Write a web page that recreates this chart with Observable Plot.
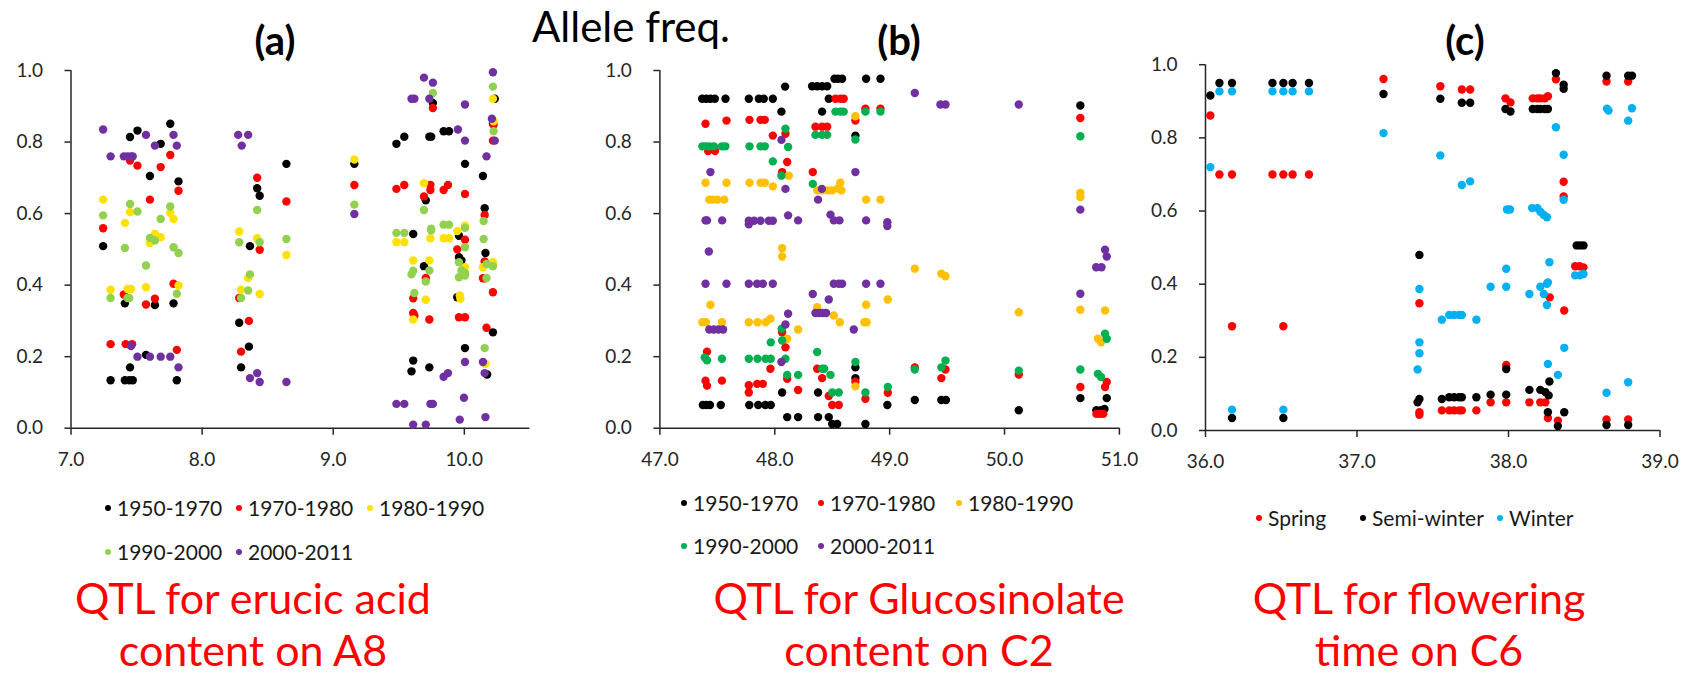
<!DOCTYPE html>
<html><head><meta charset="utf-8">
<script src="https://cdn.jsdelivr.net/npm/d3@7"></script>
<script src="https://cdn.jsdelivr.net/npm/@observablehq/plot@0.6"></script>
<style>
body{margin:0;background:#fff;}
#root{position:relative;width:1689px;height:676px;overflow:hidden;font-family:Lato,sans-serif;background:#fff;}
.abs{position:absolute;white-space:nowrap;line-height:1;}
.panel{position:absolute;top:0;}
</style></head><body><div id="root"></div><script>
// ---------- Panel (a): QTL for erucic acid content on A8 ----------
const aNames = ["1950-1970","1970-1980","1980-1990","1990-2000","2000-2011"];
const aColors = ["#000000","#FF0000","#FFE100","#92D050","#7030A0"];
const aXTicks = [7,8,9,10];
const a1950 = [[7.245,0.509],[7.302,0.134],[7.411,0.349],[7.411,0.134],[7.444,0.134],[7.471,0.134],[7.450,0.17],[7.450,0.814],[7.507,0.832],[7.602,0.705],[7.640,0.344],[7.572,0.205],[7.684,0.795],[7.757,0.851],[7.820,0.69],[7.782,0.349],[7.807,0.134],
[8.365,0.509],[8.420,0.671],[8.439,0.65],[8.283,0.295],[8.357,0.228],[8.297,0.17],[8.643,0.739],[9.161,0.739],
[9.482,0.795],[9.542,0.815],[9.610,0.543],[9.597,0.159],[9.610,0.189],[9.760,0.909],[9.733,0.815],[9.747,0.815],[9.706,0.637],[9.692,0.453],[9.733,0.17],[9.842,0.83],[9.883,0.83],[10.005,0.739],[9.959,0.538],[9.959,0.478],[9.978,0.469],[9.946,0.366],[10.005,0.224],[10.142,0.705],[10.155,0.615],[10.161,0.49],[10.218,0.268],[10.174,0.15],[10.232,0.921],[10.218,0.851]];
const a1970 = [[7.245,0.559],[7.302,0.235],[7.403,0.374],[7.417,0.235],[7.466,0.235],[7.450,0.748],[7.507,0.734],[7.602,0.639],[7.640,0.362],[7.572,0.346],[7.684,0.73],[7.757,0.764],[7.820,0.664],[7.782,0.404],[7.807,0.219],
[8.420,0.70],[8.439,0.499],[8.283,0.364],[8.357,0.30],[8.297,0.214],[8.643,0.634],[9.161,0.68],
[9.482,0.669],[9.542,0.68],[9.610,0.363],[9.610,0.322],[9.619,0.315],[9.760,0.895],[9.741,0.68],[9.741,0.666],[9.692,0.648],[9.706,0.42],[9.733,0.304],[9.842,0.666],[9.875,0.68],[10.005,0.655],[10.005,0.527],[9.946,0.50],[9.959,0.31],[10.005,0.31],[10.155,0.596],[10.155,0.466],[10.142,0.419],[10.161,0.419],[10.218,0.38],[10.169,0.281],[10.223,0.848],[10.218,0.804]];
const a1980 = [[7.245,0.639],[7.302,0.387],[7.411,0.574],[7.431,0.389],[7.458,0.389],[7.450,0.604],[7.572,0.394],[7.602,0.518],[7.640,0.543],[7.684,0.534],[7.757,0.602],[7.782,0.585],[7.820,0.399],
[8.283,0.55],[8.420,0.531],[8.351,0.42],[8.297,0.387],[8.439,0.375],[8.643,0.484],[9.161,0.751],
[9.482,0.52],[9.542,0.52],[9.610,0.469],[9.610,0.304],[9.692,0.685],[9.741,0.531],[9.733,0.469],[9.706,0.359],[9.842,0.531],[9.883,0.531],[9.946,0.551],[10.005,0.566],[10.005,0.45],[9.965,0.371],[9.970,0.362],[10.142,0.45],[10.218,0.464],[10.161,0.18],[10.218,0.921],[10.223,0.858]];
const a1990 = [[7.245,0.595],[7.302,0.364],[7.411,0.504],[7.431,0.364],[7.444,0.364],[7.450,0.627],[7.507,0.606],[7.572,0.455],[7.602,0.532],[7.640,0.525],[7.684,0.585],[7.757,0.62],[7.782,0.506],[7.820,0.49],[7.807,0.376],
[8.283,0.52],[8.439,0.52],[8.420,0.61],[8.365,0.43],[8.297,0.364],[8.351,0.385],[8.643,0.529],[9.161,0.625],
[9.482,0.546],[9.542,0.546],[9.597,0.43],[9.610,0.44],[9.619,0.378],[9.760,0.937],[9.692,0.61],[9.747,0.558],[9.747,0.553],[9.733,0.441],[9.706,0.41],[9.842,0.569],[9.883,0.569],[10.005,0.56],[10.005,0.506],[9.959,0.464],[9.978,0.441],[10.005,0.434],[9.959,0.422],[10.005,0.427],[10.147,0.579],[10.147,0.529],[10.169,0.459],[10.218,0.453],[10.169,0.42],[10.155,0.224],[10.218,0.955],[10.223,0.83]];
const a2000 = [[7.245,0.835],[7.302,0.76],[7.403,0.76],[7.431,0.76],[7.458,0.76],[7.471,0.76],[7.572,0.82],[7.458,0.23],[7.507,0.2],[7.602,0.2],[7.640,0.79],[7.684,0.2],[7.757,0.2],[7.782,0.82],[7.807,0.79],[7.820,0.17],
[8.275,0.82],[8.351,0.82],[8.302,0.79],[8.365,0.14],[8.420,0.154],[8.439,0.129],[8.643,0.129],[9.161,0.599],
[9.482,0.068],[9.542,0.068],[9.597,0.921],[9.619,0.921],[9.610,0.01],[9.692,0.98],[9.760,0.966],[9.733,0.921],[9.706,0.01],[9.741,0.068],[9.760,0.068],[9.842,0.144],[9.875,0.154],[9.951,0.835],[10.005,0.804],[10.005,0.905],[10.005,0.185],[9.997,0.085],[9.965,0.024],[10.169,0.76],[10.142,0.185],[10.155,0.154],[10.161,0.031],[10.218,0.995],[10.210,0.865],[10.232,0.804]];

// ---------- Panel (b): QTL for Glucosinolate content on C2 ----------
const bNames = ["1950-1970","1970-1980","1980-1990","1990-2000","2000-2011"];
const bColors = ["#000000","#FF0000","#FFC000","#00B050","#7030A0"];
const bXTicks = [47,48,49,50,51];
const b1950 = [[47.368,0.921],[47.403,0.921],[47.44,0.921],[47.478,0.921],[47.571,0.921],[47.774,0.921],[47.861,0.921],[47.904,0.921],[47.983,0.921],
[47.374,0.065],[47.405,0.065],[47.436,0.065],[47.53,0.065],[47.778,0.065],[47.856,0.065],[47.918,0.065],[47.965,0.065],
[48.09,0.955],[48.058,0.885],[48.325,0.956],[48.369,0.956],[48.412,0.956],[48.456,0.956],[48.52,0.977],[48.55,0.977],[48.586,0.977],[48.795,0.977],[48.92,0.977],[48.47,0.921],[48.412,0.885],[48.702,0.818],[48.064,0.1],[48.108,0.031],[48.203,0.031],[48.377,0.031],[48.47,0.031],[48.5,0.012],[48.543,0.012],[48.789,0.012],[48.377,0.1],[48.702,0.17],[48.702,0.14],[48.98,0.065],[49.219,0.079],[49.45,0.079],[49.49,0.079],[50.124,0.05],[50.66,0.902],[50.66,0.084],[50.89,0.084],[50.80,0.05],[50.84,0.05],[50.87,0.054]];
const b1970 = [[47.397,0.851],[47.58,0.86],[47.78,0.862],[47.876,0.862],[47.913,0.862],[47.983,0.818],[47.42,0.775],[47.48,0.775],[47.41,0.214],[47.397,0.133],[47.41,0.119],[47.54,0.133],[47.774,0.12],[47.774,0.10],[47.847,0.124],[47.896,0.124],[47.962,0.166],
[48.528,0.921],[48.572,0.921],[48.6,0.921],[48.789,0.893],[48.92,0.893],[48.702,0.86],[48.354,0.843],[48.412,0.843],[48.456,0.843],[48.093,0.823],[48.108,0.744],[48.064,0.716],[48.331,0.716],[48.064,0.268],[48.093,0.226],[48.108,0.138],[48.203,0.107],[48.369,0.166],[48.412,0.14],[48.47,0.09],[48.5,0.065],[48.557,0.065],[48.702,0.13],[48.789,0.082],[48.984,0.099],[49.219,0.17],[49.486,0.164],[49.45,0.14],[50.124,0.15],[50.66,0.867],[50.66,0.115],[50.875,0.115],[50.89,0.129],[50.80,0.04],[50.83,0.04],[50.86,0.04]];
const b1980 = [[47.397,0.686],[47.58,0.686],[47.78,0.686],[47.876,0.686],[47.913,0.686],[47.983,0.676],[47.43,0.639],[47.46,0.639],[47.50,0.639],[47.56,0.639],[47.44,0.345],[47.37,0.296],[47.40,0.296],[47.54,0.296],[47.774,0.296],[47.85,0.296],[47.92,0.296],[47.962,0.306],
[48.122,0.706],[48.064,0.503],[48.064,0.48],[48.108,0.25],[48.203,0.276],[48.702,0.872],[48.37,0.665],[48.41,0.665],[48.46,0.665],[48.50,0.665],[48.55,0.67],[48.57,0.686],[48.58,0.665],[48.795,0.639],[48.92,0.639],[48.369,0.338],[48.514,0.315],[48.566,0.296],[48.795,0.345],[48.78,0.296],[48.80,0.296],[48.984,0.36],[48.702,0.117],[49.219,0.446],[49.45,0.432],[49.486,0.425],[50.124,0.324],[50.66,0.658],[50.66,0.646],[50.66,0.331],[50.875,0.329],[50.813,0.25],[50.84,0.24]];
const b1990 = [[47.37,0.788],[47.40,0.788],[47.43,0.788],[47.47,0.788],[47.54,0.788],[47.57,0.788],[47.78,0.788],[47.876,0.788],[47.913,0.788],[47.983,0.746],[47.39,0.198],[47.41,0.19],[47.54,0.194],[47.774,0.194],[47.85,0.194],[47.92,0.194],[47.965,0.194],[47.965,0.24],
[48.093,0.837],[48.116,0.786],[48.058,0.706],[48.528,0.885],[48.572,0.885],[48.6,0.885],[48.789,0.885],[48.92,0.885],[48.702,0.807],[48.354,0.82],[48.412,0.82],[48.456,0.82],[48.331,0.683],[48.06,0.278],[48.064,0.245],[48.093,0.194],[48.108,0.149],[48.203,0.149],[48.369,0.213],[48.412,0.166],[48.43,0.166],[48.485,0.149],[48.5,0.1],[48.557,0.1],[48.702,0.185],[48.789,0.1],[48.984,0.115],[49.219,0.164],[49.45,0.17],[49.486,0.189],[50.124,0.161],[50.66,0.816],[50.66,0.164],[50.875,0.264],[50.89,0.25],[50.813,0.152],[50.84,0.143]];
const b2000 = [[47.44,0.716],[47.397,0.581],[47.41,0.581],[47.542,0.581],[47.774,0.58],[47.774,0.57],[47.82,0.58],[47.876,0.58],[47.948,0.58],[47.983,0.58],[47.426,0.494],[47.397,0.404],[47.58,0.404],[47.774,0.404],[47.846,0.404],[47.896,0.404],[47.983,0.404],[47.43,0.276],[47.47,0.276],[47.51,0.276],[47.55,0.276],
[48.058,0.806],[48.093,0.669],[48.116,0.595],[48.203,0.581],[48.41,0.669],[48.377,0.639],[48.702,0.716],[48.485,0.597],[48.514,0.581],[48.563,0.581],[48.795,0.581],[48.98,0.576],[48.98,0.565],[48.514,0.404],[48.557,0.404],[48.586,0.404],[48.795,0.404],[48.92,0.404],[48.331,0.375],[48.47,0.36],[48.354,0.322],[48.385,0.322],[48.415,0.322],[48.447,0.322],[48.688,0.276],[48.116,0.32],[48.093,0.29],[48.058,0.185],[49.219,0.937],[49.442,0.905],[49.486,0.905],[50.124,0.905],[50.66,0.611],[50.66,0.376],[50.798,0.45],[50.844,0.45],[50.875,0.499],[50.89,0.48]];

// ---------- Panel (c): QTL for flowering time on C6 ----------
const cNames = ["Spring","Semi-winter","Winter"];
const cColors = ["#FF0000","#000000","#00B0F0"];
const cXTicks = [36,37,38,39];
const cSpring = [[36.032,0.861],[36.092,0.70],[36.175,0.70],[36.175,0.285],[36.442,0.70],[36.514,0.70],[36.575,0.70],[36.683,0.70],[36.514,0.285],[37.175,0.961],[37.55,0.941],[37.692,0.932],[37.747,0.932],[37.98,0.908],[38.013,0.897],[38.16,0.908],[38.19,0.908],[38.21,0.908],[38.24,0.908],[38.26,0.914],[38.313,0.96],[38.364,0.68],[38.364,0.64],[38.44,0.449],[38.47,0.449],[38.495,0.446],[37.412,0.348],[37.412,0.05],[37.412,0.043],[37.56,0.055],[37.609,0.055],[37.641,0.055],[37.674,0.055],[37.692,0.055],[37.788,0.055],[37.882,0.077],[37.985,0.077],[37.985,0.179],[38.138,0.077],[38.21,0.077],[38.243,0.077],[38.272,0.364],[38.368,0.328],[38.26,0.034],[38.326,0.027],[38.647,0.954],[38.79,0.954],[38.647,0.03],[38.79,0.03]];
const cSemi = [[36.032,0.916],[36.092,0.95],[36.175,0.95],[36.442,0.95],[36.514,0.95],[36.575,0.95],[36.683,0.95],[36.175,0.034],[36.514,0.034],[37.175,0.92],[37.55,0.907],[37.692,0.896],[37.747,0.896],[37.98,0.879],[38.013,0.872],[38.16,0.879],[38.19,0.879],[38.21,0.879],[38.24,0.879],[38.26,0.879],[38.313,0.977],[38.364,0.945],[38.364,0.934],[38.45,0.506],[38.473,0.506],[38.495,0.506],[37.412,0.48],[37.412,0.086],[37.40,0.077],[37.56,0.086],[37.609,0.091],[37.641,0.091],[37.674,0.091],[37.692,0.091],[37.788,0.091],[37.882,0.098],[37.985,0.098],[37.985,0.168],[38.138,0.111],[38.21,0.111],[38.243,0.105],[38.265,0.096],[38.27,0.134],[38.26,0.05],[38.368,0.05],[38.326,0.012],[38.647,0.97],[38.79,0.97],[38.815,0.97],[38.647,0.015],[38.79,0.015]];
const cWinter = [[36.032,0.72],[36.092,0.927],[36.175,0.927],[36.442,0.927],[36.514,0.927],[36.575,0.927],[36.683,0.927],[36.175,0.057],[36.514,0.057],[37.175,0.813],[37.55,0.752],[37.692,0.671],[37.747,0.681],[37.99,0.604],[38.01,0.604],[38.156,0.608],[38.19,0.608],[38.21,0.598],[38.233,0.589],[38.254,0.583],[38.313,0.829],[38.364,0.754],[38.364,0.631],[38.44,0.424],[38.47,0.424],[38.495,0.428],[37.412,0.387],[37.412,0.241],[37.412,0.211],[37.40,0.167],[37.56,0.303],[37.609,0.316],[37.641,0.316],[37.674,0.316],[37.692,0.316],[37.788,0.303],[37.882,0.393],[37.985,0.442],[37.985,0.393],[38.138,0.373],[38.21,0.393],[38.233,0.373],[38.254,0.401],[38.26,0.405],[38.27,0.46],[38.254,0.343],[38.368,0.226],[38.26,0.182],[38.326,0.152],[38.65,0.88],[38.66,0.875],[38.79,0.847],[38.815,0.881],[38.647,0.103],[38.79,0.132]];

const yTicks = [0,0.2,0.4,0.6,0.8,1.0];
const titles = ["(a)","(b)","(c)"];
const mainTitle = "Allele freq.";
const captions = [["QTL for erucic acid","content on A8"],["QTL for Glucosinolate","content on C2"],["QTL for flowering","time on C6"]];

const root = document.getElementById("root");
const AX = "#262626";

function panel(cfg){
  const rows = cfg.series.flatMap((pts,i)=>pts.map(([x,y])=>({x,y,s:cfg.names[i]})));
  const H = 480;
  const svg = Plot.plot({
    width: cfg.W, height: H,
    marginLeft: cfg.axisX - cfg.L, marginRight: cfg.L + cfg.W - cfg.axisEnd,
    marginTop: cfg.yTop, marginBottom: H - cfg.yBottom,
    style: {fontFamily: "Lato, sans-serif", fontSize: "19px", color: AX, background: "transparent", overflow: "visible"},
    x: {domain: cfg.xDomain},
    y: {domain: [0,1]},
    color: {domain: cfg.names, range: cfg.colors},
    marks: [
      Plot.axisX({ticks: cfg.xTicks, tickFormat: d=>d.toFixed(1), tickSize: 7, tickPadding: 17, label: null, strokeWidth: 1.5}),
      Plot.axisY({ticks: yTicks, tickFormat: d=>d.toFixed(1), tickSize: 6, tickPadding: 22, label: null, strokeWidth: 1.5}),
      Plot.ruleY([0], {stroke: AX, strokeWidth: 1.5}),
      Plot.ruleX([cfg.xDomain[0]], {y1: 0, y2: 1, stroke: AX, strokeWidth: 1.5}),
      Plot.dot(rows, {x: "x", y: "y", fill: "s", r: 4.2})
    ]
  });
  const wrap = document.createElement("div");
  wrap.className = "panel";
  wrap.style.left = cfg.L + "px";
  wrap.appendChild(svg);
  root.appendChild(wrap);
}

panel({L: 0, W: 560, axisX: 70.5, axisEnd: 529.4, yTop: 70, yBottom: 427.7, xDomain: [7,10.5], xTicks: aXTicks,
  names: aNames, colors: aColors, series: [a1950,a1970,a1980,a1990,a2000]});
panel({L: 590, W: 560, axisX: 659.4, axisEnd: 1118.9, yTop: 70, yBottom: 427.7, xDomain: [47,51], xTicks: bXTicks,
  names: bNames, colors: bColors, series: [b1950,b1970,b1980,b1990,b2000]});
panel({L: 1130, W: 559, axisX: 1205, axisEnd: 1659.5, yTop: 64.2, yBottom: 430, xDomain: [36,39], xTicks: cXTicks,
  names: cNames, colors: cColors, series: [cSpring,cSemi,cWinter]});

// text helpers (baseline positioning, Lato ascent ~0.887em at line-height 1)
function text(str, {x, base, size, anchor="start", weight=400, color="#000"}){
  const d = document.createElement("div");
  d.className = "abs";
  d.textContent = str;
  d.style.fontSize = size + "px";
  d.style.fontWeight = weight;
  d.style.color = color;
  d.style.top = (base - 0.887*size) + "px";
  d.style.left = x + "px";
  if (anchor === "middle") d.style.transform = "translateX(-50%)";
  root.appendChild(d);
  return d;
}

text(mainTitle, {x: 532, base: 42, size: 42});
[275, 899, 1465].forEach((cx,i)=>text(titles[i], {x: cx, base: 55, size: 40, anchor: "middle", weight: 700}));

function legendItem(name, color, mx, cy){
  const m = document.createElement("div");
  m.className = "abs";
  Object.assign(m.style, {left: (mx-3)+"px", top: (cy-3)+"px", width: "6px", height: "6px", borderRadius: "50%", background: color});
  root.appendChild(m);
  text(name, {x: mx + 9, base: cy + 7.5, size: 21, color: "#1a1a1a"});
}
const aLeg = [[108,508],[239,508],[370,508],[108,552],[239,552]];
aNames.forEach((n,i)=>legendItem(n, aColors[i], aLeg[i][0], aLeg[i][1]));
const bLeg = [[684,503],[821,503],[959,503],[684,546],[821,546]];
bNames.forEach((n,i)=>legendItem(n, bColors[i], bLeg[i][0], bLeg[i][1]));
const cLeg = [[1259,518],[1363,518],[1500,518]];
cNames.forEach((n,i)=>legendItem(n, cColors[i], cLeg[i][0], cLeg[i][1]));

[253, 919, 1419].forEach((cx,i)=>{
  text(captions[i][0], {x: cx, base: 614, size: 43, anchor: "middle", color: "#FF0000"});
  text(captions[i][1], {x: cx, base: 666, size: 43, anchor: "middle", color: "#FF0000"});
});
</script></body></html>
